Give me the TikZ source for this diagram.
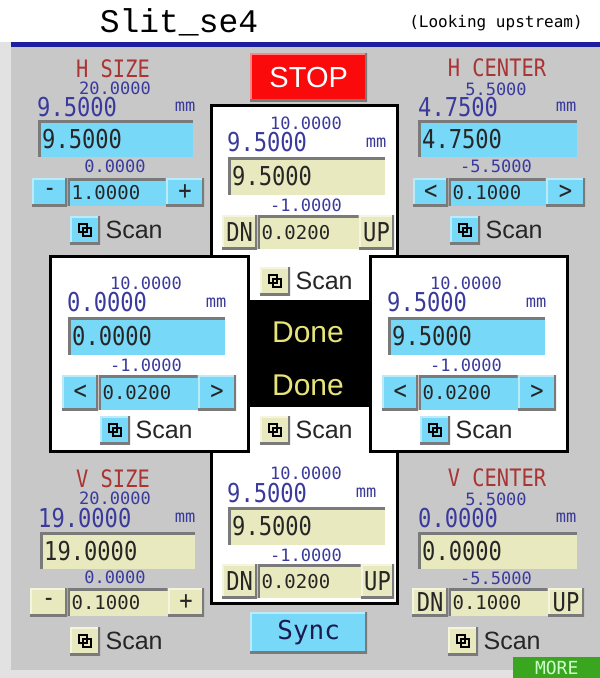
\documentclass[tikz,border=0pt]{standalone}
\usepackage{fontspec}
\setmainfont{Liberation Sans}
\newfontfamily\valfont[FakeStretch=0.85]{DejaVu Sans Mono}
\newfontfamily\numfont{DejaVu Sans Mono}
\newfontfamily\titlefont{Liberation Mono}
\usetikzlibrary{positioning}

\definecolor{panelgray}{HTML}{C8C8C8}
\definecolor{edgegray}{HTML}{E2E2E2}
\definecolor{navyline}{HTML}{1E1EA0}
\definecolor{ltblue}{HTML}{78D8F8}
\definecolor{ltyellow}{HTML}{E9E9C0}
\definecolor{valblue}{HTML}{3A3A9C}
\definecolor{labred}{HTML}{A83434}
\definecolor{stopred}{HTML}{FA0A0A}
\definecolor{moregreen}{HTML}{3AA620}
\definecolor{donetext}{HTML}{E8E47A}
\definecolor{bevdark}{HTML}{7A7A7A}
\definecolor{synctext}{HTML}{1A1A50}

\newcommand\bigval{\valfont\fontsize{26}{26}\selectfont}
\newcommand\limval{\numfont\fontsize{17}{17}\selectfont}
\newcommand\stepval{\numfont\fontsize{19}{19}\selectfont}
\newcommand\labtxt{\valfont\fontsize{24}{24}\selectfont}
\newcommand\btntxt{\valfont\fontsize{26}{26}\selectfont}
\newcommand\scanfnt{\fontsize{25}{25}\selectfont}

\begin{document}
\begin{tikzpicture}[x=1pt,y=-1pt]
    \tikzstyle{widget}=[rectangle, inner sep=0pt, anchor=north west]
    \tikzstyle{sunken}=[widget, text=black!85, path picture={
        \draw[bevdark, line width=5pt] (path picture bounding box.south west)
          -- (path picture bounding box.north west) -- (path picture bounding box.north east);}]
    \tikzstyle{raised}=[widget, text=black!85, path picture={
        \draw[white, opacity=.5, line width=4pt] (path picture bounding box.south west)
          -- (path picture bounding box.north west) -- (path picture bounding box.north east);
        \draw[bevdark, line width=5pt] (path picture bounding box.south west)
          -- (path picture bounding box.south east) -- (path picture bounding box.north east);}]
    \tikzstyle{entry}=[sunken, font=\bigval, inner xsep=4pt, align=left, minimum height=37pt]
    \tikzstyle{field}=[sunken, font=\stepval, inner xsep=4pt, align=left, minimum height=28pt]
    \tikzstyle{btn}=[raised, font=\btntxt, minimum height=28pt]
    \tikzstyle{scanbtn}=[widget, minimum width=30pt, minimum height=28pt, path picture={
        \draw[white, opacity=.5, line width=4pt] (path picture bounding box.south west)
          -- (path picture bounding box.north west) -- (path picture bounding box.north east);
        \draw[bevdark, line width=5pt] (path picture bounding box.south west)
          -- (path picture bounding box.south east) -- (path picture bounding box.north east);
        \draw[line width=1.6pt] ([shift={(-6,-6)}]path picture bounding box.center)
          rectangle ([shift={(2,2)}]path picture bounding box.center);
        \draw[line width=1.6pt] ([shift={(-2,-2)}]path picture bounding box.center)
          rectangle ([shift={(6,6)}]path picture bounding box.center);}]
    \tikzstyle{scantxt}=[inner sep=0pt, font=\scanfnt, text=black!85]
    \tikzstyle{lab}=[inner sep=0pt, anchor=base, text depth=0pt, font=\labtxt, text=labred]
    \tikzstyle{lim}=[inner sep=0pt, font=\limval, text=valblue]
    \tikzstyle{toplim}=[lim, anchor=base, text height=12pt]
    \tikzstyle{unitlbl}=[inner sep=0pt, font=\limval, text=valblue]
    \tikzstyle{readback}=[inner sep=0pt, anchor=west, font=\bigval, text=valblue]
    \tikzstyle{frame}=[widget, draw=black, line width=3pt, fill=white]

    \useasboundingbox (0,0) rectangle (600,678);
    \fill[white] (0,0) rectangle (600,678);
    \fill[edgegray] (0,42) rectangle (600,678);
    \fill[panelgray] (11,47) rectangle (600,670);
    \fill[navyline] (11,42) rectangle (600,47);

    \node[font=\titlefont\fontsize{33}{33}\selectfont] (title) at (179,22) {Slit\_se4};
    \node[font=\numfont\fontsize{16}{16}\selectfont] (subtitle) at (496,23) {(Looking upstream)};

    % frames round the middle
    \node[frame, minimum width=186pt, minimum height=498pt] (midBox) at (210,104) {};
    \node[frame, minimum width=198pt, minimum height=195pt] (leftBox) at (49,255) {};
    \node[frame, minimum width=197pt, minimum height=195pt] (rightBox) at (369,255) {};
    \node[widget, fill=black, minimum width=122pt, minimum height=107pt] (doneBox) at (247,300) {};
    \node[font=\fontsize{30}{30}\selectfont, text=donetext] (doneTop) at (308,332) {Done};
    \node[font=\fontsize{30}{30}\selectfont, text=donetext] (doneBot) at (308,385) {Done};

    \node[raised, fill=stopred, minimum width=117pt, minimum height=48pt, text=white,
      font=\fontsize{29}{29}\selectfont] (stop) at (250,53) {STOP};
    \node[raised, fill=ltblue, minimum width=117pt, minimum height=41pt, text=synctext,
      font=\numfont\fontsize{26}{26}\selectfont] (sync) at (250,612) {Sync};
    \node[widget, fill=moregreen, minimum width=87pt, minimum height=21pt, text=green!20,
      font=\numfont\fontsize{18}{18}\selectfont] (more) at (513,657) {MORE};

    % H SIZE
    \node[lab] (hsLab) at (113,77) {H SIZE};
    \node[toplim] (hsMax) at (115,94) {20.0000};
    \node[readback] (hsVal) at (37,107) {9.5000};
    \node[unitlbl] (hsUnit) at (185,107) {mm};
    \node[entry, fill=ltblue, text width=147pt] (hsEntry) at (38,120) {9.5000};
    \node[lim] (hsMin) at (115,166) {0.0000};
    \node[btn, fill=ltblue, minimum width=35pt] (hsMinus) at (32,178) {-};
    \node[field, fill=ltblue, right=0pt of hsMinus, text width=90pt] (hsStep) {1.0000};
    \node[btn, fill=ltblue, right=0pt of hsStep, minimum width=38pt] (hsPlus) {+};
    \node[scanbtn, fill=ltblue] (hsScan) at (70,216) {};
    \node[scantxt, right=5pt of hsScan] (hsScanTxt) {Scan};

    % H CENTER
    \begin{scope}[shift={(381,0)}]
    \node[lab] (hcLab) at (116,76) {H CENTER};
    \node[toplim] (hcMax) at (115,95) {5.5000};
    \node[readback] (hcVal) at (37,107) {4.7500};
    \node[unitlbl] (hcUnit) at (185,107) {mm};
    \node[entry, fill=ltblue, text width=151pt] (hcEntry) at (37,120) {4.7500};
    \node[lim] (hcMin) at (115,166) {-5.5000};
    \node[btn, fill=ltblue, minimum width=35pt] (hcDec) at (32,178) {<};
    \node[field, fill=ltblue, right=0pt of hcDec, text width=89pt] (hcStep) {0.1000};
    \node[btn, fill=ltblue, right=0pt of hcStep, minimum width=39pt] (hcInc) {>};
    \node[scanbtn, fill=ltblue] (hcScan) at (69,216) {};
    \node[scantxt, right=5pt of hcScan] (hcScanTxt) {Scan};
    \end{scope}

    % V SIZE
    \begin{scope}[shift={(0,410)}]
    \node[lab] (vsLab) at (113,77) {V SIZE};
    \node[toplim] (vsMax) at (115,94) {20.0000};
    \node[readback] (vsVal) at (38,108) {19.0000};
    \node[unitlbl] (vsUnit) at (185,108) {mm};
    \node[entry, fill=ltyellow, text width=147pt] (vsEntry) at (40,122) {19.0000};
    \node[lim] (vsMin) at (115,167) {0.0000};
    \node[btn, fill=ltyellow, minimum width=37pt] (vsMinus) at (30,178) {-};
    \node[field, fill=ltyellow, right=0pt of vsMinus, text width=92pt] (vsStep) {0.1000};
    \node[btn, fill=ltyellow, right=0pt of vsStep, minimum width=36pt] (vsPlus) {+};
    \node[scanbtn, fill=ltyellow] (vsScan) at (70,217) {};
    \node[scantxt, right=5pt of vsScan] (vsScanTxt) {Scan};
    \end{scope}

    % V CENTER
    \begin{scope}[shift={(381,410)}]
    \node[lab] (vcLab) at (116,76) {V CENTER};
    \node[toplim] (vcMax) at (115,95) {5.5000};
    \node[readback] (vcVal) at (37,108) {0.0000};
    \node[unitlbl] (vcUnit) at (185,108) {mm};
    \node[entry, fill=ltyellow, text width=151pt] (vcEntry) at (37,122) {0.0000};
    \node[lim] (vcMin) at (115,168) {-5.5000};
    \node[btn, fill=ltyellow, minimum width=36pt] (vcDn) at (31,178) {DN};
    \node[field, fill=ltyellow, right=0pt of vcDn, text width=91pt] (vcStep) {0.1000};
    \node[btn, fill=ltyellow, right=0pt of vcStep, minimum width=36pt] (vcUp) {UP};
    \node[scanbtn, fill=ltyellow] (vcScan) at (67,217) {};
    \node[scantxt, right=5pt of vcScan] (vcScanTxt) {Scan};
    \end{scope}

    % left box
    \node[lim] (lbMax) at (146,283) {10.0000};
    \node[readback] (lbVal) at (67,302) {0.0000};
    \node[unitlbl] (lbUnit) at (216,303) {mm};
    \node[entry, fill=ltblue, text width=149pt, minimum height=38pt] (lbEntry) at (68,317) {0.0000};
    \node[lim] (lbMin) at (146,365) {-1.0000};
    \node[btn, fill=ltblue, minimum width=36pt, minimum height=35pt] (lbDec) at (62,375) {<};
    \node[field, fill=ltblue, right=0pt of lbDec, text width=91pt, minimum height=35pt] (lbStep) {0.0200};
    \node[btn, fill=ltblue, right=0pt of lbStep, minimum width=38pt, minimum height=35pt] (lbInc) {>};
    \node[scanbtn, fill=ltblue] (lbScan) at (100,416) {};
    \node[scantxt, right=5pt of lbScan] (lbScanTxt) {Scan};

    % right box
    \begin{scope}[shift={(320,0)}]
    \node[lim] (rbMax) at (146,283) {10.0000};
    \node[readback] (rbVal) at (67,302) {9.5000};
    \node[unitlbl] (rbUnit) at (216,303) {mm};
    \node[entry, fill=ltblue, text width=149pt, minimum height=38pt] (rbEntry) at (68,317) {9.5000};
    \node[lim] (rbMin) at (146,365) {-1.0000};
    \node[btn, fill=ltblue, minimum width=36pt, minimum height=35pt] (rbDec) at (62,375) {<};
    \node[field, fill=ltblue, right=0pt of rbDec, text width=91pt, minimum height=35pt] (rbStep) {0.0200};
    \node[btn, fill=ltblue, right=0pt of rbStep, minimum width=38pt, minimum height=35pt] (rbInc) {>};
    \node[scanbtn, fill=ltblue] (rbScan) at (100,416) {};
    \node[scantxt, right=5pt of rbScan] (rbScanTxt) {Scan};
    \end{scope}

    % top of the middle
    \begin{scope}[shift={(160,-160)}]
    \node[lim] (tbMax) at (146,283) {10.0000};
    \node[readback] (tbVal) at (67,302) {9.5000};
    \node[unitlbl] (tbUnit) at (216,303) {mm};
    \node[entry, fill=ltyellow, text width=149pt, minimum height=38pt] (tbEntry) at (68,317) {9.5000};
    \node[lim] (tbMin) at (146,365) {-1.0000};
    \node[btn, fill=ltyellow, minimum width=35pt, minimum height=34pt] (tbDn) at (62,375) {DN};
    \node[field, fill=ltyellow, right=0pt of tbDn, text width=93pt, minimum height=34pt] (tbStep) {0.0200};
    \node[btn, fill=ltyellow, right=0pt of tbStep, minimum width=35pt, minimum height=34pt] (tbUp) {UP};
    \end{scope}
    \node[scanbtn, fill=ltyellow] (tbScan) at (260,267) {};
    \node[scantxt, right=5pt of tbScan] (tbScanTxt) {Scan};

    % bottom of the middle
    \node[scanbtn, fill=ltyellow] (bbScan) at (260,416) {};
    \node[scantxt, right=5pt of bbScan] (bbScanTxt) {Scan};
    \begin{scope}[shift={(160,190)}]
    \node[lim] (bbMax) at (146,283) {10.0000};
    \node[readback] (bbVal) at (67,303) {9.5000};
    \node[unitlbl] (bbUnit) at (206,303) {mm};
    \node[entry, fill=ltyellow, text width=149pt, minimum height=38pt] (bbEntry) at (68,317) {9.5000};
    \node[lim] (bbMin) at (146,365) {-1.0000};
    \node[btn, fill=ltyellow, minimum width=35pt, minimum height=34pt] (bbDn) at (62,374) {DN};
    \node[field, fill=ltyellow, right=0pt of bbDn, text width=95pt, minimum height=34pt] (bbStep) {0.0200};
    \node[btn, fill=ltyellow, right=0pt of bbStep, minimum width=33pt, minimum height=34pt] (bbUp) {UP};
    \end{scope}
\end{tikzpicture}
\end{document}
